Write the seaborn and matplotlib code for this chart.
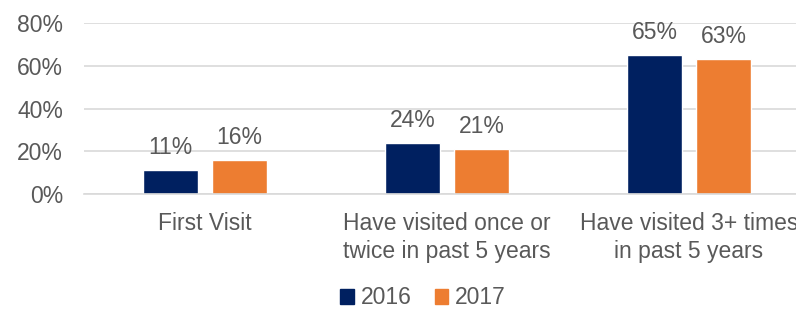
import pandas as pd
import matplotlib.pyplot as plt
import seaborn as sns

# ==========================
# Chart data
# ==========================
categories = ["First Visit",
              "Have visited once or\ntwice in past 5 years",
              "Have visited 3+ times\nin past 5 years"]
years = ["2016", "2017"]
values_2016 = [0.11, 0.24, 0.65]
values_2017 = [0.16, 0.21, 0.63]
colors = ["#002060", "#ED7D31"]

df = pd.DataFrame({
    "Category": categories * 2,
    "Year": [years[0]] * 3 + [years[1]] * 3,
    "Share": values_2016 + values_2017,
})

# ==========================
# Style
# ==========================
sns.set_theme(style="white")
plt.rcParams["font.family"] = ["Liberation Sans", "DejaVu Sans"]
text_color = "#595959"
font_size = 16.5

fig = plt.figure(figsize=(7.96, 3.09), dpi=100)
ax = fig.add_axes([84 / 796, 1 - 194 / 309, 726 / 796, 171 / 309])

sns.barplot(
    data=df, x="Category", y="Share", hue="Year",
    palette=colors, saturation=1, width=0.57, gap=0.2, ax=ax, legend=True,
)

ax.set_ylim(0, 0.8)
ax.set_yticks([0, 0.2, 0.4, 0.6, 0.8])
ax.set_yticklabels([f"{int(round(t * 100))}%" for t in ax.get_yticks()])
ax.yaxis.grid(True, color="#D9D9D9", linewidth=1.2)
ax.set_axisbelow(True)
ax.set_xlabel("")
ax.set_ylabel("")

for side in ["top", "right", "left"]:
    ax.spines[side].set_visible(False)
ax.spines["bottom"].set_color("#D9D9D9")
ax.spines["bottom"].set_linewidth(1.2)

ax.tick_params(axis="y", length=0, pad=15, labelsize=font_size, labelcolor=text_color)
ax.tick_params(axis="x", length=0, pad=13, labelsize=font_size, labelcolor=text_color)
for lab in ax.get_xticklabels():
    lab.set_linespacing(1.25)

# Value labels above bars
for container in ax.containers:
    ax.bar_label(
        container,
        labels=[f"{int(round(v * 100))}%" for v in container.datavalues],
        padding=8, fontsize=font_size, color=text_color,
    )

# Legend at bottom
ax.get_legend().remove()
handles = [plt.Rectangle((0, 0), 1, 1, color=c) for c in colors]
fig.legend(
    handles, years, loc="center", bbox_to_anchor=(423 / 796, 1 - 298 / 309),
    ncol=2, frameon=False, fontsize=font_size, labelcolor=text_color,
    handlelength=0.6, handleheight=0.6, handletextpad=0.3, columnspacing=1.0,
)

plt.savefig("out.png", dpi=100)
plt.close()
